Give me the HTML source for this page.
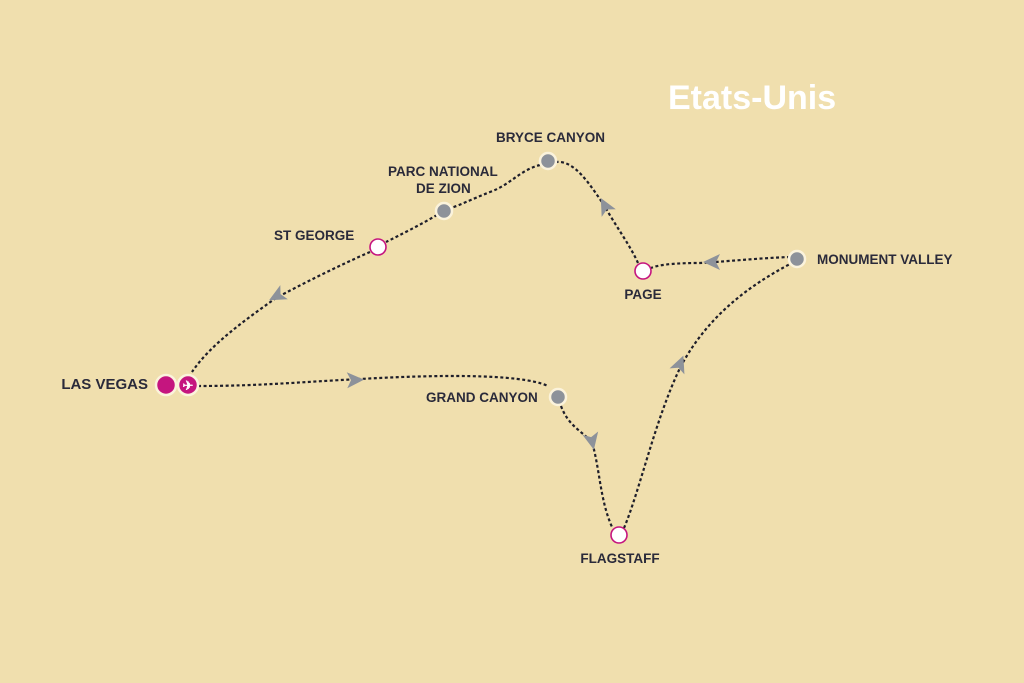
<!DOCTYPE html>
<html><head><meta charset="utf-8"><style>
html,body{margin:0;padding:0;background:#f0dfae;}
svg{display:block}
text{font-family:"Liberation Sans",sans-serif;font-weight:bold;fill:#2a2a3a;}
</style></head><body>
<svg width="1024" height="683" viewBox="0 0 1024 683" xmlns="http://www.w3.org/2000/svg">
<rect width="1024" height="683" fill="#f0dfae"/>
<g fill="none" stroke="#1e1e2a" stroke-width="2.2" stroke-dasharray="3 2.5">
<path d="M198,386 C260,386 300,382 360,379 C430,375 520,373 548,386"/>
<path d="M561,406 C568,425 580,430 592,442 C600,470 600,500 612,527"/>
<path d="M624,528 C640,490 655,420 680,368 C710,310 760,280 790,264"/>
<path d="M790,257 C760,258 720,262 700,263 C680,263 660,264 651,268"/>
<path d="M638,263 C630,245 615,225 604,205 C590,185 575,160 556,162"/>
<path d="M540,165 C520,170 510,185 490,192 C470,200 460,205 451,208"/>
<path d="M437,215 C420,225 400,235 386,242"/>
<path d="M370,252 C340,265 300,285 276,298 C245,320 210,345 192,372"/>
</g>
<g fill="#8d929a">
<path d="M9,0 L-8,-8 L-4,0 L-8,8 Z" transform="translate(355,380) rotate(-2)"/>
<path d="M9,0 L-8,-8 L-4,0 L-8,8 Z" transform="translate(592,441) rotate(78)"/>
<path d="M9,0 L-8,-8 L-4,0 L-8,8 Z" transform="translate(680,364) rotate(-68)"/>
<path d="M9,0 L-8,-8 L-4,0 L-8,8 Z" transform="translate(712,262) rotate(180)"/>
<path d="M9,0 L-8,-8 L-4,0 L-8,8 Z" transform="translate(605,206) rotate(-118)"/>
<path d="M9,0 L-8,-8 L-4,0 L-8,8 Z" transform="translate(277,296) rotate(152)"/>
</g>
<g stroke="#fbf3dc" stroke-width="2.5">
<circle cx="166" cy="385" r="10" fill="#c5157f"/>
<circle cx="188" cy="385" r="10" fill="#c5157f"/>
<circle cx="444" cy="211" r="8" fill="#8d929a"/>
<circle cx="548" cy="161" r="8" fill="#8d929a"/>
<circle cx="797" cy="259" r="8" fill="#8d929a"/>
<circle cx="558" cy="397" r="8" fill="#8d929a"/>
</g>
<g fill="#fff" stroke="#c5157f" stroke-width="1.6">
<circle cx="378" cy="247" r="8"/>
<circle cx="643" cy="271" r="8"/>
<circle cx="619" cy="535" r="8"/>
</g>
<text x="188" y="390" font-size="13" text-anchor="middle" style="fill:#fff">✈</text>
<text x="668" y="109" font-size="34" style="fill:#fff">Etats-Unis</text>
<g font-size="13.5">
<text x="148" y="389" font-size="15" text-anchor="end">LAS VEGAS</text>
<text x="496" y="142">BRYCE CANYON</text>
<text x="388" y="176">PARC NATIONAL</text>
<text x="416" y="193">DE ZION</text>
<text x="274" y="240">ST GEORGE</text>
<text x="643" y="299" text-anchor="middle">PAGE</text>
<text x="817" y="264">MONUMENT VALLEY</text>
<text x="426" y="402">GRAND CANYON</text>
<text x="620" y="563" text-anchor="middle">FLAGSTAFF</text>
</g>
</svg>
</body></html>
